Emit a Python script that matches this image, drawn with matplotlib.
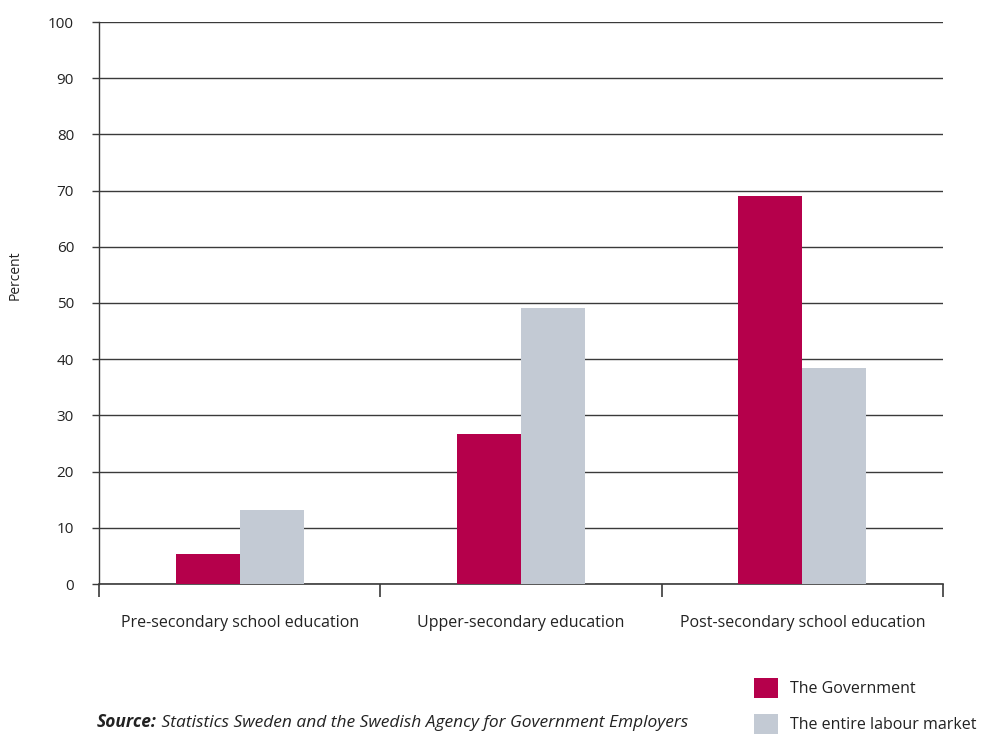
import matplotlib.pyplot as plt
import numpy as np

plt.rcParams['font.family'] = ['Open Sans', 'DejaVu Sans']

categories = ["Pre-secondary school education", "Upper-secondary education",
              "Post-secondary school education"]
series_names = ["The Government", "The entire labour market"]
government = [5.3, 26.7, 69.0]
labour_market = [13.1, 49.1, 38.4]
yticks = list(range(0, 101, 10))

gov_color = "#B5004B"
lab_color = "#C3CAD4"
text_color = "#222222"

fig = plt.figure(figsize=(9.83, 7.36), dpi=100)
ax = fig.add_axes([99 / 983, 1 - 584 / 736, (943 - 99) / 983, (584 - 22) / 736])

x = np.arange(len(categories))
w = 0.228
b1 = ax.bar(x - w / 2, government, w, color=gov_color, label=series_names[0], zorder=3)
b2 = ax.bar(x + w / 2, labour_market, w, color=lab_color, label=series_names[1], zorder=3)

ax.set_xlim(-0.5, len(categories) - 0.5)
ax.set_ylim(0, 100)
ax.set_yticks(yticks)
ax.set_yticklabels([str(v) for v in yticks], fontsize=11, color=text_color)
ax.yaxis.grid(True, color="#3a3a3a", linewidth=1.0, zorder=1)
ax.tick_params(axis='y', length=5, width=1.0, color="#3a3a3a", pad=13)

ax.set_xticks(x)
ax.set_xticklabels(categories, fontsize=11.5, color=text_color)
ax.tick_params(axis='x', which='major', length=0, pad=22)
ax.set_xticks(np.arange(-0.5, len(categories), 1.0), minor=True)
ax.tick_params(axis='x', which='minor', length=9, width=1.2, color="#3a3a3a", direction='out')

for side in ['top', 'right']:
    ax.spines[side].set_visible(False)
ax.spines['left'].set_color("#3a3a3a")
ax.spines['bottom'].set_color("#3a3a3a")
ax.spines['left'].set_linewidth(1.0)
ax.spines['bottom'].set_linewidth(1.2)

fig.text(15 / 983, 1 - 275 / 736, "Percent", rotation=90, ha='center', va='center',
         fontsize=10, color=text_color)

fig.legend(handles=[b1, b2], loc='upper left', bbox_to_anchor=(743 / 983, 1 - 667 / 736),
           frameon=False, fontsize=11.5, handlelength=1.5, handleheight=1.5,
           handletextpad=0.75, labelspacing=1.05, borderpad=0.2, labelcolor=text_color)

src = fig.text(97 / 983, 1 - 727 / 736, "Source:", fontsize=12.5, fontweight='bold',
               style='italic', color=text_color, ha='left', va='baseline')
ax.annotate(" Statistics Sweden and the Swedish Agency for Government Employers",
            xy=(1, 0), xycoords=src, fontsize=12.5, style='italic', color=text_color,
            ha='left', va='bottom', annotation_clip=False)

fig.savefig("out.png", dpi=100)
